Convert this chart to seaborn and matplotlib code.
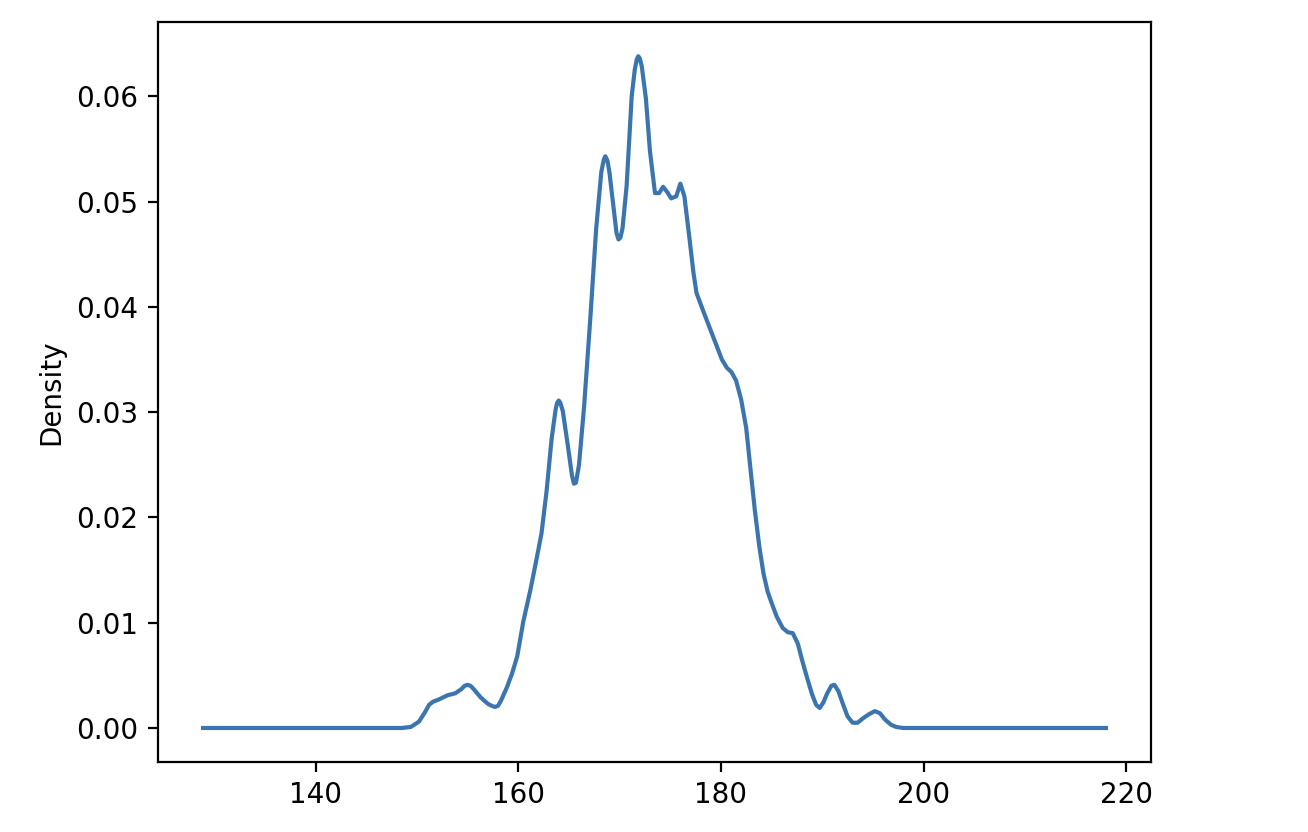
import matplotlib
matplotlib.use("Agg")
import matplotlib.pyplot as plt
import seaborn as sns
import pandas as pd

# Values
height = [128.9, 135.0, 140.0, 145.0, 148.5, 149.4, 150.2, 150.8, 151.2, 151.6, 152.15, 153.0, 153.8,
          154.4, 154.7, 155.0, 155.3, 155.6, 156.3, 157.0, 157.4, 157.7, 158.0, 158.3, 158.9, 159.4,
          159.9, 160.5, 161.2, 161.8, 162.3, 162.8, 163.3, 163.7, 163.85, 164.0, 164.15, 164.4,
          164.9, 165.3, 165.5, 165.7, 166.0, 166.5, 167.1, 167.7, 168.2, 168.45, 168.6, 168.8,
          169.0, 169.4, 169.7, 169.9, 170.1, 170.3, 170.7, 171.2, 171.5, 171.7, 171.85, 172.0,
          172.2, 172.6, 173.0, 173.5, 173.9, 174.3, 174.7, 175.1, 175.6, 176.0, 176.4, 176.9,
          177.3, 177.6, 178.3, 179.1, 180.1, 180.6, 181.05, 181.5, 182.0, 182.5, 182.9, 183.35,
          183.8, 184.2, 184.6, 185.0, 185.5, 186.1, 186.6, 187.1, 187.6, 188.0, 188.5, 189.0,
          189.4, 189.75, 190.1, 190.5, 190.9, 191.2, 191.6, 192.0, 192.5, 193.0, 193.5, 194.0,
          194.6, 195.2, 195.7, 196.2, 196.8, 197.3, 198.0, 200.0, 205.0, 210.0, 215.0, 218.0]
density = [0.0, 0.0, 0.0, 0.0, 0.0, 0.0001, 0.0006, 0.0015, 0.0022, 0.0025, 0.0027, 0.0031, 0.0033,
           0.0037, 0.0040, 0.0041, 0.0040, 0.0037, 0.0029, 0.0023, 0.0021, 0.0020, 0.0021, 0.0026,
           0.0039, 0.0052, 0.0068, 0.0101, 0.0131, 0.0160, 0.0185, 0.0225, 0.0275, 0.0303, 0.0309,
           0.0311, 0.0309, 0.0301, 0.0268, 0.0240, 0.0232, 0.0233, 0.0250, 0.0305, 0.0387, 0.0475,
           0.0528, 0.0540, 0.0543, 0.0539, 0.0528, 0.0495, 0.0470, 0.0464, 0.0466, 0.0475, 0.0515,
           0.0600, 0.0625, 0.0635, 0.0638, 0.0636, 0.0628, 0.0598, 0.0548, 0.0508, 0.0508, 0.0514,
           0.0509, 0.0503, 0.0505, 0.0517, 0.0505, 0.0465, 0.0432, 0.0413, 0.0395, 0.0375, 0.0350,
           0.0342, 0.0338, 0.0330, 0.0312, 0.0285, 0.0248, 0.0207, 0.0172, 0.0147, 0.0130, 0.0119,
           0.0106, 0.0095, 0.0091, 0.0090, 0.0080, 0.0065, 0.0048, 0.0032, 0.0022, 0.0019, 0.0024,
           0.0033, 0.0040, 0.0041, 0.0035, 0.0024, 0.0011, 0.0005, 0.0005, 0.0009, 0.0013, 0.0016,
           0.0014, 0.0008, 0.0003, 0.0001, 0.0, 0.0, 0.0, 0.0, 0.0, 0.0]

df = pd.DataFrame({"height": height, "Density": density})

plt.rcParams["font.family"] = ["DejaVu Sans"]
plt.rcParams["font.size"] = 10
plt.rcParams["lines.solid_joinstyle"] = "round"

fig = plt.figure(figsize=(6.54, 4.16), dpi=200)
ax = fig.add_axes([158 / 1308, 70 / 832, 993 / 1308, 740 / 832])
sns.lineplot(data=df, x="height", y="Density", ax=ax, color="#3b75af", linewidth=1.5)
ax.set_xlabel("")
ax.set_ylabel("Density")
ax.set_xticks([140, 160, 180, 200, 220])
ax.set_yticks([0.0, 0.01, 0.02, 0.03, 0.04, 0.05, 0.06])
ax.set_yticklabels(["0.00", "0.01", "0.02", "0.03", "0.04", "0.05", "0.06"])
ax.set_xlim(124.45, 222.45)
ax.set_ylim(-0.00323, 0.06705)
fig.savefig("out.png", dpi=200)
